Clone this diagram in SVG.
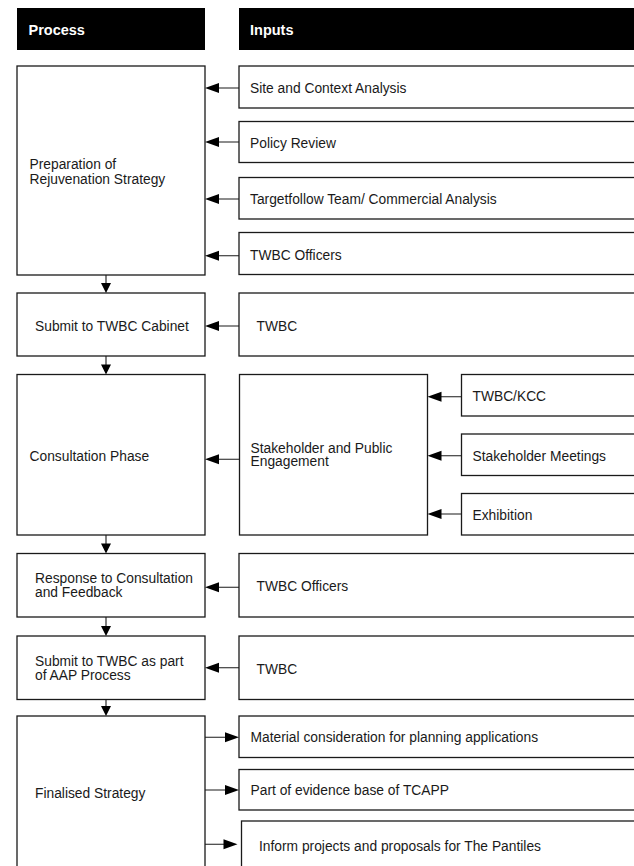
<svg xmlns="http://www.w3.org/2000/svg" width="634" height="866" viewBox="0 0 634 866">
<defs>
<style>
.box{fill:#fff;stroke:#1a1a1a;stroke-width:1.3}
.hdr{fill:#000}
.ht{font-family:"Liberation Sans",Arial,sans-serif;font-weight:bold;font-size:14.5px;fill:#fff}
.t{font-family:"Liberation Sans",Arial,sans-serif;font-size:13.8px;fill:#1a1a1a}
.ln{stroke:#1a1a1a;stroke-width:1.1;fill:none}
.ah{fill:#000}
</style>
</defs>
<rect width="634" height="866" fill="#fff"/>
<g id="header-process"><rect class="hdr" x="17" y="8" width="188" height="42"/><text class="ht" x="28.5" y="35">Process</text></g>
<g id="header-inputs"><rect class="hdr" x="239" y="8" width="400" height="42"/><text class="ht" x="250" y="35">Inputs</text></g>

<g id="prep"><rect class="box" x="17" y="66" width="188" height="209"/><text class="t" x="29.5" y="169">Preparation of</text><text class="t" x="29.5" y="183.5">Rejuvenation Strategy</text></g>
<g id="site"><rect class="box" x="239" y="66" width="400" height="42"/><text class="t" x="250" y="93">Site and Context Analysis</text></g>
<g id="policy"><rect class="box" x="239" y="121.5" width="400" height="41"/><text class="t" x="250" y="147.5">Policy Review</text></g>
<g id="targetfollow"><rect class="box" x="239" y="177.5" width="400" height="41.5"/><text class="t" x="250" y="204">Targetfollow Team/ Commercial Analysis</text></g>
<g id="officers1"><rect class="box" x="239" y="232.5" width="400" height="42"/><text class="t" x="250" y="260">TWBC Officers</text></g>

<g id="cabinet"><rect class="box" x="17" y="293" width="188" height="63"/><text class="t" x="35" y="330.5">Submit to TWBC Cabinet</text></g>
<g id="twbc1"><rect class="box" x="239" y="293" width="400" height="63"/><text class="t" x="256.5" y="330.5">TWBC</text></g>

<g id="consultation"><rect class="box" x="17" y="374.5" width="188" height="160.5"/><text class="t" x="29.5" y="461">Consultation Phase</text></g>
<g id="engagement"><rect class="box" x="239.5" y="374.5" width="188" height="160.5"/><text class="t" x="250.5" y="452.5">Stakeholder and Public</text><text class="t" x="250.5" y="466">Engagement</text></g>
<g id="kcc"><rect class="box" x="461.5" y="374.5" width="180" height="41.5"/><text class="t" x="472.5" y="401">TWBC/KCC</text></g>
<g id="meetings"><rect class="box" x="461.5" y="434" width="180" height="41.5"/><text class="t" x="472.5" y="460.5">Stakeholder Meetings</text></g>
<g id="exhibition"><rect class="box" x="461.5" y="493.5" width="180" height="41.5"/><text class="t" x="472.5" y="519.5">Exhibition</text></g>

<g id="response"><rect class="box" x="17" y="553.5" width="188" height="63.5"/><text class="t" x="35" y="583">Response to Consultation</text><text class="t" x="35" y="597">and Feedback</text></g>
<g id="officers2"><rect class="box" x="239" y="553.5" width="400" height="63.5"/><text class="t" x="256.5" y="591">TWBC Officers</text></g>

<g id="aap"><rect class="box" x="17" y="636" width="188" height="63.5"/><text class="t" x="35" y="666">Submit to TWBC as part</text><text class="t" x="35" y="680">of AAP Process</text></g>
<g id="twbc2"><rect class="box" x="239" y="636" width="400" height="63.5"/><text class="t" x="256.5" y="673.5">TWBC</text></g>

<g id="finalised"><rect class="box" x="17" y="716" width="188" height="160"/><text class="t" x="35" y="798">Finalised Strategy</text></g>
<g id="material"><rect class="box" x="239" y="716" width="400" height="41.5"/><text class="t" x="250.5" y="742">Material consideration for planning applications</text></g>
<g id="evidence"><rect class="box" x="239" y="769.5" width="400" height="40.5"/><text class="t" x="250.5" y="795">Part of evidence base of TCAPP</text></g>
<g id="inform"><rect class="box" x="241.5" y="821" width="400" height="60"/><text class="t" x="259" y="851">Inform projects and proposals for The Pantiles</text></g>

<g id="connectors">
<path class="ln" d="M239 88H218M239 142H218M239 199H218M239 255.7H218M239 326H218M239.5 459.3H218M461.5 396.7H440M461.5 455.7H440M461.5 514H440M239 587.3H218M239 667.7H218"/>
<path class="ah" d="M205 88l14-5v10zM205 142l14-5v10zM205 199l14-5v10zM205 255.7l14-5v10zM205 326l14-5v10zM205 459.3l14-5v10zM427.5 396.7l14-5v10zM427.5 455.7l14-5v10zM427.5 514l14-5v10zM205 587.3l14-5v10zM205 667.7l14-5v10z"/>
<path class="ln" d="M205 737.3H226M205 790H226M205 844.3H224"/>
<path class="ah" d="M239 737.3l-14-5v10zM239 790l-14-5v10zM237.5 844.3l-14-5v10z"/>
<path class="ln" d="M106 275V284M106 356V365M106 535V544M106 617V627M106 699.5V707"/>
<path class="ah" d="M106 293l-5-10h10zM106 374.5l-5-10h10zM106 553.5l-5-10h10zM106 636l-5-10h10zM106 716l-5-10h10z"/>
</g>
</svg>
